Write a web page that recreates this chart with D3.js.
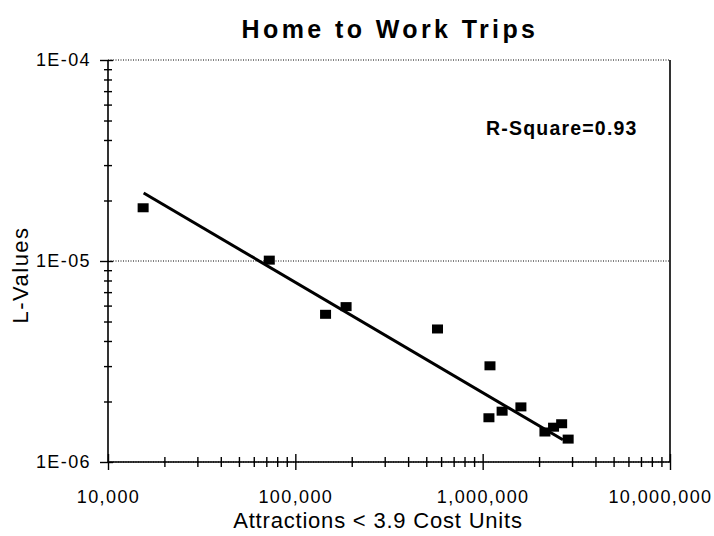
<!DOCTYPE html>
<html>
<head>
<meta charset="utf-8">
<script src="https://cdn.jsdelivr.net/npm/d3@7"></script>
<style>
  body { margin: 0; background: #fff; }
  svg { display: block; font-family: "Liberation Sans", Arial, sans-serif; }
</style>
</head>
<body>
<svg id="chart" width="714" height="536"></svg>
<script>
// data
var attractions = [15400, 72600, 145000, 186600, 574000, 1094000, 1080000, 1270000, 1600000, 2150000, 2390000, 2640000, 2860000];
var lValues = [1.84e-5, 1.01e-5, 5.43e-6, 5.93e-6, 4.59e-6, 3.01e-6, 1.66e-6, 1.79e-6, 1.88e-6, 1.41e-6, 1.49e-6, 1.55e-6, 1.30e-6];
var fitX = [15500, 2680000];
var fitY = [2.18e-5, 1.29e-6];
var xTicks = [1e4, 1e5, 1e6, 1e7];
var xTickLabels = ["10,000", "100,000", "1,000,000", "10,000,000"];
var yTicks = [1e-6, 1e-5, 1e-4];
var yTickLabels = ["1E-06", "1E-05", "1E-04"];

// plot box
var pLeft = 108, pRight = 670, pTop = 60, pBottom = 462;

var svg = d3.select("#chart");

var x = d3.scaleLog().domain([1e4, 1e7]).range([pLeft, pRight]);
var y = d3.scaleLog().domain([1e-6, 1e-4]).range([pBottom, pTop]);

// minor tick positions 2..9 per decade
function minors(lo, hi) {
    var out = [];
    for (var p = lo; p < hi; p++)
        for (var m = 2; m <= 9; m++) out.push(m * Math.pow(10, p));
    return out;
}

// dotted gridlines
svg.append("g")
    .selectAll("line")
    .data(yTicks)
    .enter()
    .append("line")
    .attr("x1", pLeft).attr("x2", pRight)
    .attr("y1", d => y(d)).attr("y2", d => y(d))
    .attr("stroke", "#000")
    .attr("stroke-width", 1)
    .attr("stroke-dasharray", "1,1.5");

// frame: left, bottom, right solid
svg.append("path")
    .attr("d", `M${pLeft},${pTop}V${pBottom}H${pRight}V${pTop}`)
    .attr("fill", "none")
    .attr("stroke", "#000")
    .attr("stroke-width", 1.6);

// x axis ticks (crossing the axis)
var gx = svg.append("g").attr("transform", `translate(0,${pBottom})`);
gx.append("g")
    .call(d3.axisBottom(x).tickValues(minors(4, 7)).tickSize(5).tickFormat(""))
    .call(g => g.select(".domain").remove())
    .call(g => g.selectAll(".tick line").attr("y1", -5).attr("stroke-width", 1.4));
gx.append("g")
    .call(d3.axisBottom(x).tickValues(xTicks).tickSize(8).tickPadding(20)
        .tickFormat((d, i) => xTickLabels[i]))
    .call(g => g.select(".domain").remove())
    .call(g => g.selectAll(".tick line").attr("y1", -8).attr("stroke-width", 1.4))
    .call(g => g.selectAll("text")
        .attr("font-size", 18).attr("letter-spacing", 1.4).attr("fill", "#000")
        .attr("font-family", "Liberation Sans, Arial, sans-serif"))
    // last label is pulled in so it stays inside the window
    .call(g => g.selectAll("text").filter(d => d === 1e7)
        .attr("text-anchor", "end").attr("x", 712 - pRight));

// y axis ticks
var gy = svg.append("g").attr("transform", `translate(${pLeft},0)`);
gy.append("g")
    .call(d3.axisLeft(y).tickValues(minors(-6, -4)).tickSize(4).tickFormat(""))
    .call(g => g.select(".domain").remove())
    .call(g => g.selectAll(".tick line").attr("x1", 4).attr("stroke-width", 1.4));
gy.append("g")
    .call(d3.axisLeft(y).tickValues(yTicks).tickSize(8).tickPadding(9)
        .tickFormat((d, i) => yTickLabels[i]))
    .call(g => g.select(".domain").remove())
    .call(g => g.selectAll(".tick line").attr("x1", 5).attr("stroke-width", 1.4))
    .call(g => g.selectAll("text")
        .attr("font-size", 18).attr("letter-spacing", 1.4).attr("fill", "#000")
        .attr("font-family", "Liberation Sans, Arial, sans-serif"));

// regression line
svg.append("line")
    .attr("x1", x(fitX[0])).attr("y1", y(fitY[0]))
    .attr("x2", x(fitX[1])).attr("y2", y(fitY[1]))
    .attr("stroke", "#000")
    .attr("stroke-width", 3);

// square markers
svg.append("g")
    .selectAll("rect")
    .data(attractions.map((a, i) => ({ a: a, l: lValues[i] })))
    .enter()
    .append("rect")
    .attr("x", d => x(d.a) - 5.5)
    .attr("y", d => y(d.l) - 4.5)
    .attr("width", 11)
    .attr("height", 9)
    .attr("fill", "#000");

// texts
svg.append("text")
    .attr("x", 390).attr("y", 38)
    .attr("text-anchor", "middle")
    .attr("font-size", 25).attr("font-weight", "bold").attr("letter-spacing", 3.4)
    .text("Home to Work Trips");

svg.append("text")
    .attr("x", 486).attr("y", 135)
    .attr("font-size", 19.5).attr("font-weight", "bold").attr("letter-spacing", 1.2)
    .text("R-Square=0.93");

svg.append("text")
    .attr("x", 378).attr("y", 528)
    .attr("text-anchor", "middle")
    .attr("font-size", 22).attr("letter-spacing", 0.8)
    .text("Attractions < 3.9 Cost Units");

svg.append("text")
    .attr("transform", "translate(28,275) rotate(-90)")
    .attr("text-anchor", "middle")
    .attr("font-size", 22).attr("letter-spacing", 1.5)
    .text("L-Values");
</script>
</body>
</html>
